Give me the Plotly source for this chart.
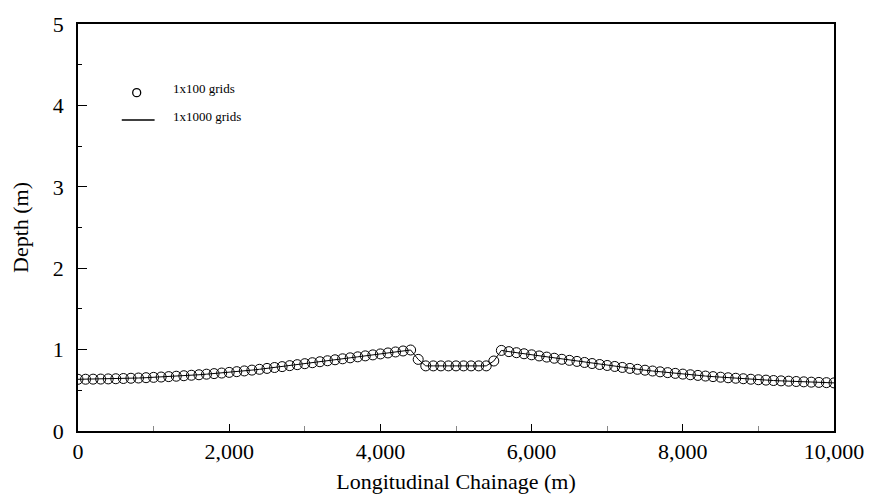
import plotly.graph_objects as go

# Chainage (m) at 100 m spacing
chainage = list(range(0, 10001, 100))

# Depth (m) for the 1x100 grid solution (circles)
depth_100 = [
    0.635, 0.636, 0.637, 0.638, 0.640, 0.642, 0.645, 0.648, 0.651, 0.655,
    0.659, 0.663, 0.668, 0.673, 0.679, 0.685, 0.691, 0.698, 0.705, 0.712,
    0.720, 0.729, 0.738, 0.748, 0.758, 0.769, 0.780, 0.791, 0.803, 0.815,
    0.827, 0.839, 0.851, 0.863, 0.875, 0.887, 0.899, 0.911, 0.923, 0.935,
    0.947, 0.959, 0.971, 0.983, 0.995,
    0.880,
    0.800, 0.800, 0.800, 0.800, 0.800, 0.800, 0.800, 0.800, 0.800,
    0.860,
    0.990, 0.975, 0.962, 0.949, 0.936, 0.922, 0.908, 0.894, 0.881, 0.868,
    0.855, 0.842, 0.829, 0.817, 0.805, 0.793, 0.781, 0.769, 0.758, 0.747,
    0.737, 0.727, 0.717, 0.708, 0.699, 0.691, 0.683, 0.675, 0.668, 0.661,
    0.654, 0.648, 0.642, 0.636, 0.630, 0.625, 0.620, 0.616, 0.612, 0.608,
    0.604, 0.600, 0.597, 0.594, 0.591,
]

# Depth (m) for the 1x1000 grid solution (line), read at the same chainages
line_chainage = chainage
depth_1000 = list(depth_100)

legend_labels = ["1x100 grids", "1x1000 grids"]

x_tickvals = [0, 2000, 4000, 6000, 8000, 10000]
y_tickvals = [0, 1, 2, 3, 4, 5]

W, H = 876, 502
ML, MR, MT, MB = 78, 38, 20, 67
PW, PH = W - ML - MR, H - MT - MB

def px_x(p):
    return (p - ML) / PW

def px_y(p):
    return 1 - (p - MT) / PH

serif = "Liberation Serif, Times New Roman, serif"

fig = go.Figure()
fig.add_trace(go.Scatter(
    x=line_chainage, y=depth_1000, mode="lines",
    line=dict(color="black", width=1),
    name=legend_labels[1], showlegend=False,
))
fig.add_trace(go.Scatter(
    x=chainage, y=depth_100, mode="markers",
    marker=dict(symbol="circle-open", size=10, color="black", line=dict(width=1)),
    name=legend_labels[0], showlegend=False,
))

# Manual legend (keys + texts)
fig.add_shape(type="circle", xref="paper", yref="paper",
              xsizemode="pixel", ysizemode="pixel",
              xanchor=px_x(137), yanchor=px_y(90),
              x0=-4, x1=4, y0=-4, y1=4,
              line=dict(color="black", width=1.3))
fig.add_shape(type="line", xref="paper", yref="paper",
              x0=px_x(122), x1=px_x(155), y0=px_y(118), y1=px_y(118),
              line=dict(color="black", width=1.5))
fig.add_annotation(xref="paper", yref="paper", x=px_x(171), y=px_y(86),
                   text=legend_labels[0], showarrow=False, xanchor="left",
                   yanchor="middle", font=dict(family=serif, size=13, color="black"))
fig.add_annotation(xref="paper", yref="paper", x=px_x(171), y=px_y(114),
                   text=legend_labels[1], showarrow=False, xanchor="left",
                   yanchor="middle", font=dict(family=serif, size=13, color="black"))

fig.update_layout(
    width=W, height=H,
    margin=dict(l=ML, r=MR, t=MT, b=MB),
    paper_bgcolor="white", plot_bgcolor="white",
    font=dict(family=serif, color="black"),
    showlegend=False,
    xaxis=dict(
        range=[0, 10000], tickvals=x_tickvals, tickformat=",d",
        showgrid=False, zeroline=False,
        showline=True, linecolor="black", linewidth=1.5, mirror=True,
        ticks="inside", ticklen=7, tickcolor="black", tickwidth=1,
        minor=dict(dtick=1000, ticks="inside", ticklen=5, tickcolor="#888", showgrid=False),
        tickfont=dict(family=serif, size=22, color="black"),
        title=dict(text="Longitudinal Chainage (m)", standoff=10,
                   font=dict(family=serif, size=22, color="black")),
    ),
    yaxis=dict(
        range=[0, 5], tickvals=y_tickvals,
        showgrid=False, zeroline=False,
        showline=True, linecolor="black", linewidth=1.5, mirror=True,
        ticks="inside", ticklen=9, tickcolor="black", tickwidth=1,
        minor=dict(dtick=0.5, ticks="inside", ticklen=4, tickcolor="black", showgrid=False),
        tickfont=dict(family=serif, size=22, color="black"),
        ticklabelstandoff=8,
        title=dict(text="Depth (m)", standoff=18,
                   font=dict(family=serif, size=22, color="black")),
    ),
)

fig.write_html("out.html")
